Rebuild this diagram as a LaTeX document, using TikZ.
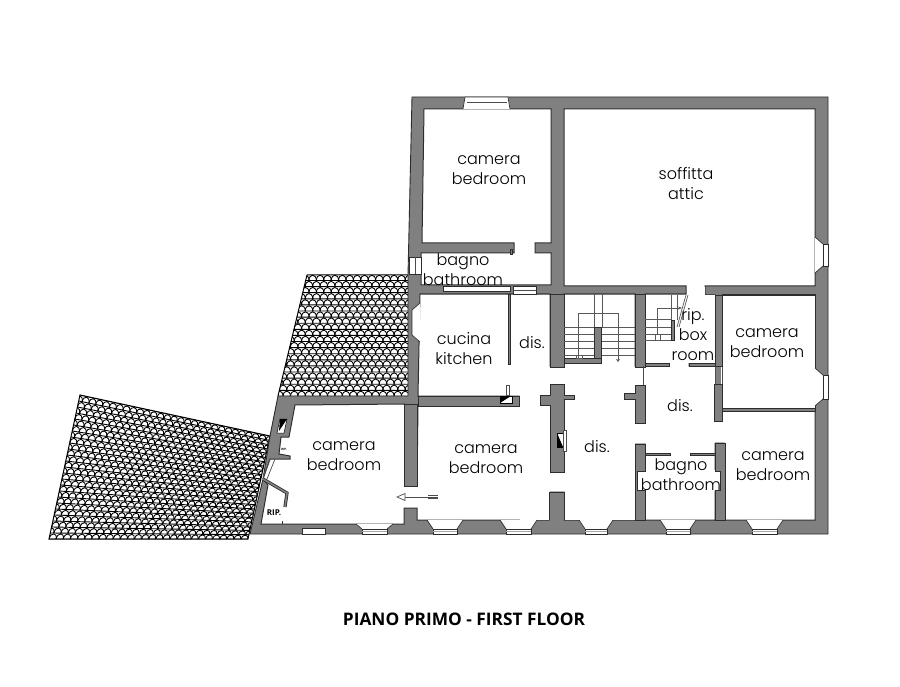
\documentclass[tikz,border=0pt]{standalone}
\usepackage{fontspec}
\setmainfont{Poppins Light}
\newfontfamily\titlefont{Open Sans}
\usetikzlibrary{arrows.meta}
\definecolor{wallgray}{RGB}{128,128,128}
\definecolor{walledge}{RGB}{45,45,45}
\tikzset{
  wallshape/.style={fill=wallgray,draw=walledge,line width=0.9pt,line join=miter},
  roomshape/.style={fill=white,draw=walledge,line width=1pt},
  winshape/.style={fill=white,draw=walledge,line width=0.7pt},
  thinline/.style={draw=black!70,line width=0.7pt},
  stairline/.style={draw=black!65,line width=0.7pt},
  tileline/.style={draw=black,line width=0.9pt},
  label/.style={font=\fontsize{16}{20}\selectfont,align=center,text=black,inner sep=0pt},
  roofedge/.style={draw=black,line width=1pt}
}
% bay window in the bottom wall: left, right, top of the bay
\newcommand{\bottomwin}[3]{%
  \pgfmathsetmacro{\xa}{#1+6}\pgfmathsetmacro{\xb}{#2-6}
  \fill[white] (#1,#3) -- (#2,#3) -- (\xb,529) -- (\xa,529) -- cycle;
  \draw[winshape] (#1,#3) -- (\xa,529) (#2,#3) -- (\xb,529);
  \draw[winshape] (\xa,529) rectangle (\xb,534);
  \draw[draw=black!35,line width=1pt] (\xa,531.5) -- (\xb,531.5);
}
% bay window in the right wall: top, bottom
\newcommand{\rightwin}[2]{%
  \pgfmathsetmacro{\ya}{#1+7}\pgfmathsetmacro{\yb}{#2-7}
  \fill[white] (815,#1) -- (823,\ya) -- (823,\yb) -- (815,#2) -- cycle;
  \draw[winshape] (815,#1) -- (823,\ya) (815,#2) -- (823,\yb);
  \draw[winshape] (823,\ya) rectangle (828,\yb);
}
\begin{document}
\begin{tikzpicture}[x=1pt,y=-1pt]
\useasboundingbox (0,0) rectangle (900,687);
\fill[white] (0,0) rectangle (900,687);

% --- upper roof tiles
\begin{scope}
\clip (307,275) -- (408,275) -- (408,396) -- (278,396) -- cycle;
\foreach \r in {0,...,19}{
  \foreach \c in {-1,...,19}{
    \pgfmathsetmacro{\xa}{272+7.4*\c+3.7*mod(\r,2)}
    \pgfmathsetmacro{\xb}{\xa+7.4}
    \pgfmathsetmacro{\ya}{280.5+6.1*\r}
    \pgfmathsetmacro{\yc}{\ya-7}
    \draw[tileline] (\xa,\ya) .. controls (\xa,\yc) and (\xb,\yc) .. (\xb,\ya) -- cycle;
  }
}
\end{scope}
\draw[roofedge] (307,275) -- (408,275) (307,275) -- (278,396);

% --- lower roof tiles (rows fan from the sloping top to the level bottom)
\begin{scope}
\clip (80,395) -- (270,436) -- (248,539) -- (49,539) -- cycle;
\foreach \r in {0,...,24}{
  \foreach \c in {-1,...,28}{
    \pgfmathsetmacro{\u}{(\c+0.5*mod(\r,2))/28}
    \pgfmathsetmacro{\w}{\u+1/28}
    \pgfmathsetmacro{\v}{\r/24}
    \pgfmathsetmacro{\t}{\v-1.15/24}
    \pgfmathsetmacro{\xa}{(1-\v)*(80+190*\u)+\v*(49+199*\u)}
    \pgfmathsetmacro{\ya}{(1-\v)*(395+41*\u)+\v*539}
    \pgfmathsetmacro{\xb}{(1-\v)*(80+190*\w)+\v*(49+199*\w)}
    \pgfmathsetmacro{\yb}{(1-\v)*(395+41*\w)+\v*539}
    \pgfmathsetmacro{\xc}{(1-\t)*(80+190*\u)+\t*(49+199*\u)}
    \pgfmathsetmacro{\yc}{(1-\t)*(395+41*\u)+\t*539}
    \pgfmathsetmacro{\xd}{(1-\t)*(80+190*\w)+\t*(49+199*\w)}
    \pgfmathsetmacro{\yd}{(1-\t)*(395+41*\w)+\t*539}
    \draw[tileline] (\xa,\ya) .. controls (\xc,\yc) and (\xd,\yd) .. (\xb,\yb) -- cycle;
  }
}
\end{scope}
\draw[roofedge] (80,395) -- (270,436) -- (248,539) -- (49,539) -- cycle;

% --- building mass
\draw[wallshape] (412,97) -- (828,97) -- (828,534) -- (250,534) -- (263,479) -- (270,436) -- (278,396) -- (408,396) -- (408,275) -- cycle;
% door in the annex wall, open to the roof side
\fill[white] (270,459) -- (276,459) -- (268,480) -- (262,480) -- cycle;

% --- rooms
\draw[roomshape] (424,109) -- (551,109) -- (551,243) -- (535,243) -- (535,253) -- (551,253) -- (551,285) -- (421,285) -- (421,253) -- (514,253) -- (514,243) -- (422,243) -- cycle;
\draw[roomshape] (564,109) -- (815,109) -- (815,286) -- (705,286) -- (705,295) -- (715,295) -- (715,363) -- (689,363) -- (689,366) -- (715,366) -- (715,385) -- (714,385) -- (714,421) -- (722,421) -- (722,411) -- (815,411) -- (815,520) -- (725,520) -- (724,443) -- (715,443) -- (715,520) -- (645,520) -- (645,444) -- (635,444) -- (635,520) -- (564,520) -- (564,492) -- (549,492) -- (549,520) -- (417,520) -- (417,508) -- (404,508) -- (404,524) -- (261,524) -- (268,485) -- (263,479) -- (270,459) -- (290,459) -- (290,456) -- (279,454) -- (281,437) -- (289,437) -- (295,405) -- (404.5,404) -- (404.5,486) -- (417,486) -- (418,406) -- (519,406) -- (519,396) -- (418,396) -- (420,294) -- (550,294) -- (550,366) -- (564,366) -- (564,294) -- (635,294) -- (635,366) -- (645,366) -- (645,294) -- (686,294) -- (686,286) -- (564,286) -- cycle;
% the rooms that the one outline above leaves closed
\fill[white] (635.5,367) rectangle (714.5,443);
\fill[white] (565,367) rectangle (635,520);
\fill[white] (519.5,367) rectangle (549.5,520);
\fill[white] (646,295) rectangle (714.5,362.5);
\fill[white] (687,287) rectangle (704.5,296);
\fill[white] (722.5,296) rectangle (814.5,407.5);
\draw[roomshape] (722,295) -- (815,295) -- (815,408) -- (722,408) -- cycle;
\fill[white] (721,367) rectangle (723,384);
\draw[thinline] (722,366) -- (722,384);
\draw[wallshape] (715,295) rectangle (722,366);
\draw[wallshape] (635,294) rectangle (645,367);
\draw[wallshape] (550,294) rectangle (564,367);

% --- pillars and stubs
\draw[wallshape] (550,384) -- (564,384) -- (564,395) -- (574,395) -- (574,399) -- (564,399) -- (564,472) -- (550,472) -- (550,405) -- (540,405) -- (540,395) -- (550,395) -- cycle;
\draw[wallshape] (635,385) -- (645,385) -- (645,423) -- (635,423) -- (635,399) -- (624,399) -- (624,393) -- (635,393) -- cycle;
\draw[wallshape] (714,384) rectangle (722,421);
\draw[wallshape] (564,520) -- (564,492) -- (549,492) -- (549,520);
\draw[wallshape] (418,396) rectangle (519,406);
\draw[wallshape] (404.5,404) rectangle (417,486);
\draw[wallshape] (645,363) rectangle (669,366);
\draw[wallshape] (689,363) rectangle (715,366);
\draw[wallshape] (645,453) rectangle (670,455);
\draw[wallshape] (690,453) rectangle (715,455);
\draw[wallshape] (722,408) rectangle (815,411);
\draw[wallshape] (635,444) rectangle (645,520);
\draw[wallshape] (715,443) rectangle (725,520);
\draw[thinline] (643.5,366) -- (643.5,385);
\draw[wallshape] (508,294) rectangle (510,364);
\draw[wallshape] (510,249) rectangle (512,254);

% --- thin wall under the upper bathroom and door
\draw[winshape] (443,286) rectangle (510,291);
\draw[winshape] (513,286) rectangle (536,294);
\draw[thinline] (513,290) -- (536,290);

% --- notches in the lower bathroom walls
\draw[roomshape] (637,471) rectangle (720,490);
\fill[white] (645.5,470) rectangle (714.5,491);

% --- windows
\fill[white] (465,97) -- (508,97) -- (510,109) -- (463,109) -- cycle;
\draw[winshape] (463,109) -- (465,97) -- (508,97) -- (510,109);
\draw[thinline] (467,102) -- (507,102);
\rightwin{237}{273}
\rightwin{368}{406}
\bottomwin{427}{463}{520}
\bottomwin{500}{537}{520}
\bottomwin{579}{613}{520}
\bottomwin{660}{696}{520}
\bottomwin{746}{783}{520}
\bottomwin{356}{393}{524}
\draw[winshape] (302,528) rectangle (325,534);
\draw[winshape] (409,257) rectangle (421,274);
\draw[thinline] (415,257) -- (415,274);
\fill[white] (420,303) -- (412,310) -- (412,335) -- (420,342) -- cycle;
\draw[winshape] (420,303) -- (412,310) -- (412,335) -- (420,342);

% --- flues
\draw[fill=white,draw=black,line width=0.5pt] (500,396) rectangle (512,403);
\fill[black] (500,396) -- (511,396) -- (500,403) -- cycle;
\draw[fill=white,thinline] (506,385) rectangle (509,395);
\draw[fill=white,draw=black,line width=0.5pt] (557,433) rectangle (563,447);
\fill[black] (557,433) -- (557,447) -- (563,447) -- cycle;
\draw[fill=white,thinline] (563,430) rectangle (566,451);
\draw[fill=white,draw=black,line width=0.5pt] (280,419) -- (287,419) -- (284,433) -- (277,433) -- cycle;
\fill[black] (280,419) -- (287,419) -- (279,431) -- cycle;

% --- annex: door leaves and angled wall
\draw[thinline] (270,459) -- (263,479) (275,459) -- (267,479);
\draw[draw=walledge,line width=3.2pt] (263,479) -- (287,493) -- (285,507);
\draw[draw=wallgray,line width=1.6pt] (263,479) -- (287,493) -- (285,507);
\draw[walledge,line width=1pt] (282,521) -- (282,524);

% --- staircase, main
\foreach \sy in {327,334,341,348,355}{ \draw[stairline] (564,\sy) -- (635,\sy); }
\draw[wallshape] (594,327) rectangle (601,363);
\draw[wallshape] (564,358) rectangle (601,363);
\draw[stairline] (594,294) -- (594,327) (602,294) -- (602,327);
\draw[stairline] (578,358) -- (578,313) -- (618,313);
\draw[stairline,-{Stealth[length=3pt,width=4pt]}] (618,313) -- (618,362);
\draw[stairline] (576,355) rectangle (582,358);

% --- staircase, box room
\foreach \sy in {319,327,334,340}{ \draw[stairline] (645,\sy) -- (672,\sy); }
\draw[wallshape] (671,320) rectangle (674,340);
\draw[stairline] (671,295) -- (671,320) (677,295) -- (677,320);
\draw[stairline,-{Stealth[length=4pt,width=3pt]}] (657,335) -- (657,308) -- (682,308);
\draw[stairline] (686,295) -- (677,327) (688,295) -- (679,327);
\draw[stairline] (655,334) rectangle (660,340);

% --- door arrow
\draw[thinline] (404,497) -- (438,497);
\draw[thinline] (428,495.5) -- (438,495.5) (428,498.5) -- (438,498.5);
\draw[thinline,fill=white] (397,497) -- (405,493.5) -- (405,500.5) -- cycle;

% --- labels
\node[label] (bedtop) at (489,170.5) {camera\\bedroom};
\node[label] (attic) at (686,184) {soffitta\\attic};
\node[label] (bathtop) at (463,269.5) {bagno\\bathroom};
\node[label] (kitchen) at (464,348.5) {cucina\\kitchen};
\node[label] (disa) at (532,343) {dis.};
\node[label] (disb) at (597,447) {dis.};
\node[label] (disc) at (680,406) {dis.};
\node[label] (bedannex) at (344,456) {camera\\bedroom};
\node[label] (bedmid) at (486,459) {camera\\bedroom};
\node[label] (bedright) at (767,343) {camera\\bedroom};
\node[label] (bedlow) at (773,466) {camera\\bedroom};
\node[label] (box) at (693,335) {rip.\\box\\room};
\node[label] (bathlow) at (681,474.5) {bagno\\bathroom};
\node[font=\titlefont\bfseries\fontsize{8}{9}\selectfont,inner sep=0pt] (ripa) at (274,513) {RIP.};
\node[font=\titlefont\bfseries\fontsize{3}{4}\selectfont,inner sep=0pt] (ripb) at (284,449) {RIP.};
\node[font=\titlefont\bfseries\fontsize{17.3}{20}\selectfont,inner sep=0pt] (floor) at (464,619) {PIANO PRIMO - FIRST FLOOR};
\end{tikzpicture}
\end{document}
